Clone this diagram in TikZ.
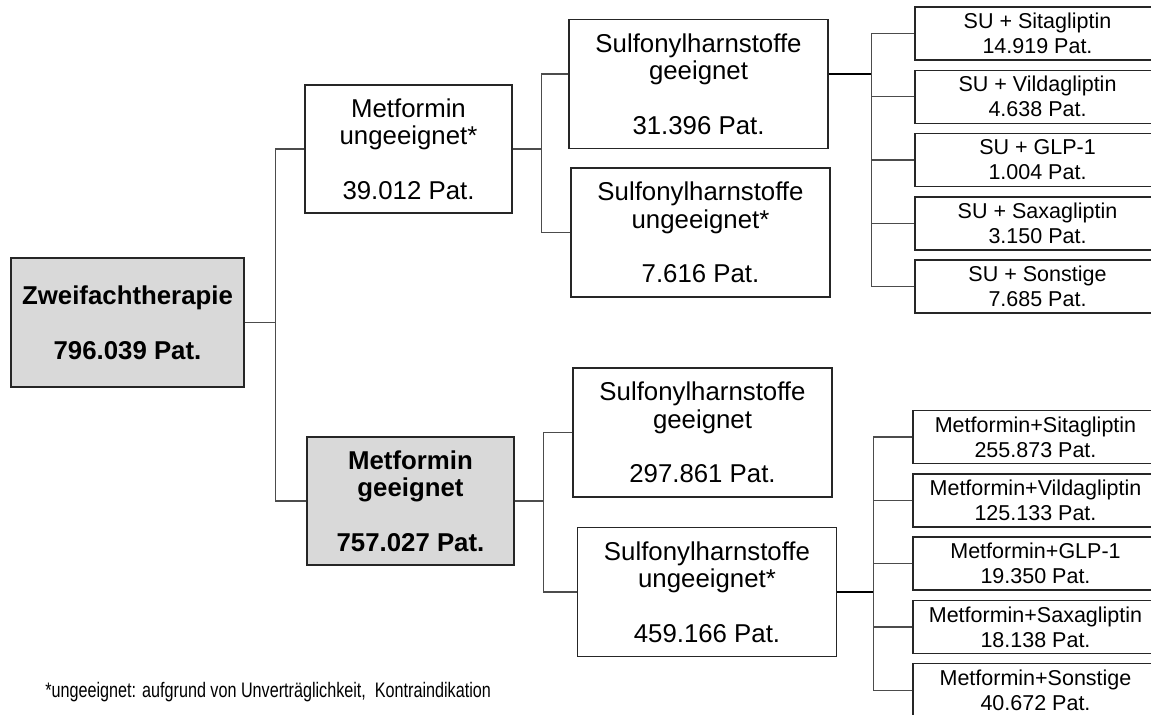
\documentclass[tikz,border=0pt]{standalone}
\usepackage{fontspec}
\setmainfont{Liberation Sans}
\usepackage{tikz}
\usetikzlibrary{
	positioning
}

\begin{document}
\begin{tikzpicture}[x=0.5pt,y=-0.5pt,node distance=4.4pt,
		box/.style={draw=black!85,line width=0.75pt,align=center,inner sep=0pt,font=\fontsize{12.9}{13.65}\selectfont},
		greybox/.style={box,fill=black!15,font=\fontsize{12.9}{13.75}\selectfont\bfseries},
		mainbox/.style={box,minimum width=103.5pt,minimum height=64pt},
		subbox/.style={box,minimum width=129.5pt,minimum height=64.5pt},
		combo/.style={box,minimum width=122.5pt,minimum height=26.5pt,font=\fontsize{10.75}{12.5}\selectfont},
		link/.style={draw=black!70,line width=0.7pt},
		trunk/.style={draw=black,line width=1.1pt},
		elbow/.style={to path={-| (\tikztotarget)}}]
		\useasboundingbox (0,0) rectangle (1151,715);
		\clip (0,0) rectangle (1151,715);
		\draw
			node[greybox,minimum width=116.5pt,minimum height=64.5pt] (zt) at (127.5,322.5) {Zweifachtherapie\\[13.75pt]796.039 Pat.}

			node[mainbox]         (mu) at (408.5,149) {Metformin\\ungeeignet*\\[13.65pt]39.012 Pat.}
			node[mainbox,greybox] (mg) at (410.5,501) {Metformin\\geeignet\\[13.65pt]757.027 Pat.}

			node[subbox] (sg1) at (698.5,84)    {Sulfonylharnstoffe\\geeignet\\[13.65pt]31.396 Pat.}
			node[subbox] (su1) at (700.5,232.5) {Sulfonylharnstoffe\\ungeeignet*\\[13.65pt]7.616 Pat.}
			node[subbox] (sg2) at (702.5,432.5) {Sulfonylharnstoffe\\geeignet\\[13.65pt]297.861 Pat.}
			node[subbox] (su2) at (707,592)     {Sulfonylharnstoffe\\ungeeignet*\\[13.65pt]459.166 Pat.}

			node[combo]            (r1) at (1037.5,33.5) {SU + Sitagliptin\\14.919 Pat.}
			node[combo,below=of r1] (r2) {SU + Vildagliptin\\4.638 Pat.}
			node[combo,below=of r2] (r3) {SU + GLP-1\\1.004 Pat.}
			node[combo,below=of r3] (r4) {SU + Saxagliptin\\3.150 Pat.}
			node[combo,below=of r4] (r5) {SU + Sonstige\\7.685 Pat.}

			node[combo]            (b1) at (1035.5,437) {Metformin+Sitagliptin\\255.873 Pat.}
			node[combo,below=of b1] (b2) {Metformin+Vildagliptin\\125.133 Pat.}
			node[combo,below=of b2] (b3) {Metformin+GLP-1\\19.350 Pat.}
			node[combo,below=of b3] (b4) {Metformin+Saxagliptin\\18.138 Pat.}
			node[combo,below=of b4] (b5) {Metformin+Sonstige\\40.672 Pat.}

			(zt.east) ++(31,0) coordinate (j0)
			(mu.east) ++(29,0) coordinate (j1)
			(mg.east) ++(29,0) coordinate (j2)
			([yshift=5pt]sg1.east) ++(43,0) coordinate (j3)
			(su2.east) ++(36.5,0) coordinate (j4)

			(zt.east) edge[link]       (j0)
			(mu.west) edge[link,elbow] (j0)
			(mg.west) edge[link,elbow] (j0)

			(mu.east)               edge[link]       (j1)
			([yshift=5pt]sg1.west)  edge[link,elbow] (j1)
			(su1.west)              edge[link,elbow] (j1)

			(mg.east)  edge[link]       (j2)
			(sg2.west) edge[link,elbow] (j2)
			(su2.west) edge[link,elbow] (j2)

			([yshift=5pt]sg1.east) edge[trunk] (j3)
			(r1.west) edge[link,elbow] (j3)
			(r2.west) edge[link,elbow] (j3)
			(r3.west) edge[link,elbow] (j3)
			(r4.west) edge[link,elbow] (j3)
			(r5.west) edge[link,elbow] (j3)

			(su2.east) edge[trunk] (j4)
			(b1.west) edge[link,elbow] (j4)
			(b2.west) edge[link,elbow] (j4)
			(b3.west) edge[link,elbow] (j4)
			(b4.west) edge[link,elbow] (j4)
			(b5.west) edge[link,elbow] (j4)
		;
		\node[anchor=west,inner sep=0pt,font=\fontsize{10.5}{12}\selectfont] (note) at (45,692)
			{\scalebox{0.77}[1]{*ungeeignet: aufgrund von Unverträglichkeit,~ Kontraindikation}};
	\end{tikzpicture}
\end{document}
